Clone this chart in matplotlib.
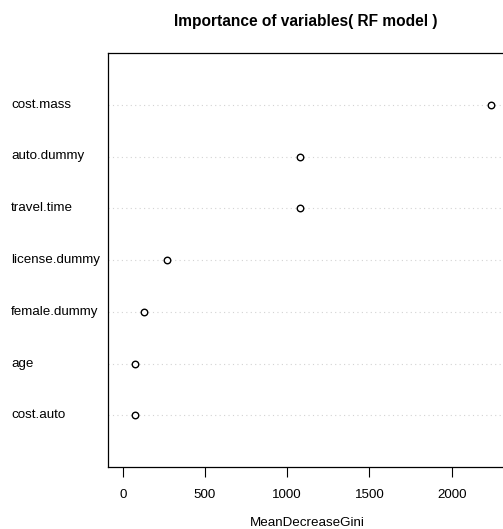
import matplotlib
matplotlib.use("Agg")
import matplotlib.pyplot as plt
from matplotlib.transforms import blended_transform_factory

variables = ["cost.mass", "auto.dummy", "travel.time", "license.dummy",
             "female.dummy", "age", "cost.auto"]
gini = [2238, 1078, 1078, 268, 130, 72, 72]
xticks = [0, 500, 1000, 1500, 2000]

plt.rcParams['font.family'] = ['Liberation Sans', 'DejaVu Sans']

W, H = 503, 529
fig = plt.figure(figsize=(W / 100, H / 100), dpi=100)
left, right, top, bottom = 108, 505.6, 53, 467
ax = fig.add_axes([left / W, 1 - bottom / H, (right - left) / W, (bottom - top) / H])

n = len(variables)
ypos = [n - i for i in range(n)]
for y in ypos:
    ax.axhline(y, color='#d3d3d3', linestyle=(0, (1, 3)), linewidth=0.8, zorder=1)
ax.scatter(gini, ypos, s=22, facecolors='white', edgecolors='black', linewidths=1.0, zorder=3)

xmax = max(gini)
ext = 0.04 * xmax
ax.set_xlim(-ext, xmax + ext)
ax.set_ylim(0, n + 1)
ax.set_yticks([])
ax.set_xticks(xticks)
ax.set_xticklabels([str(t) for t in xticks], fontsize=9.6)
ax.tick_params(axis='x', length=7, width=0.8, pad=9, direction='out')
for sp in ax.spines.values():
    sp.set_linewidth(0.9)

tr = blended_transform_factory(fig.transFigure, ax.transData)
for lab, y in zip(variables, ypos):
    ax.text(11 / W, y, lab, transform=tr, ha='left', va='center', fontsize=9.6)

fig.text(307 / W, 1 - 523 / H, "MeanDecreaseGini", ha='center', va='center', fontsize=9.6)
fig.text(306 / W, 1 - 21.5 / H, "Importance of variables( RF model )", ha='center', va='center',
         fontsize=11.2, fontweight='bold')

fig.savefig("out.png", dpi=100)
